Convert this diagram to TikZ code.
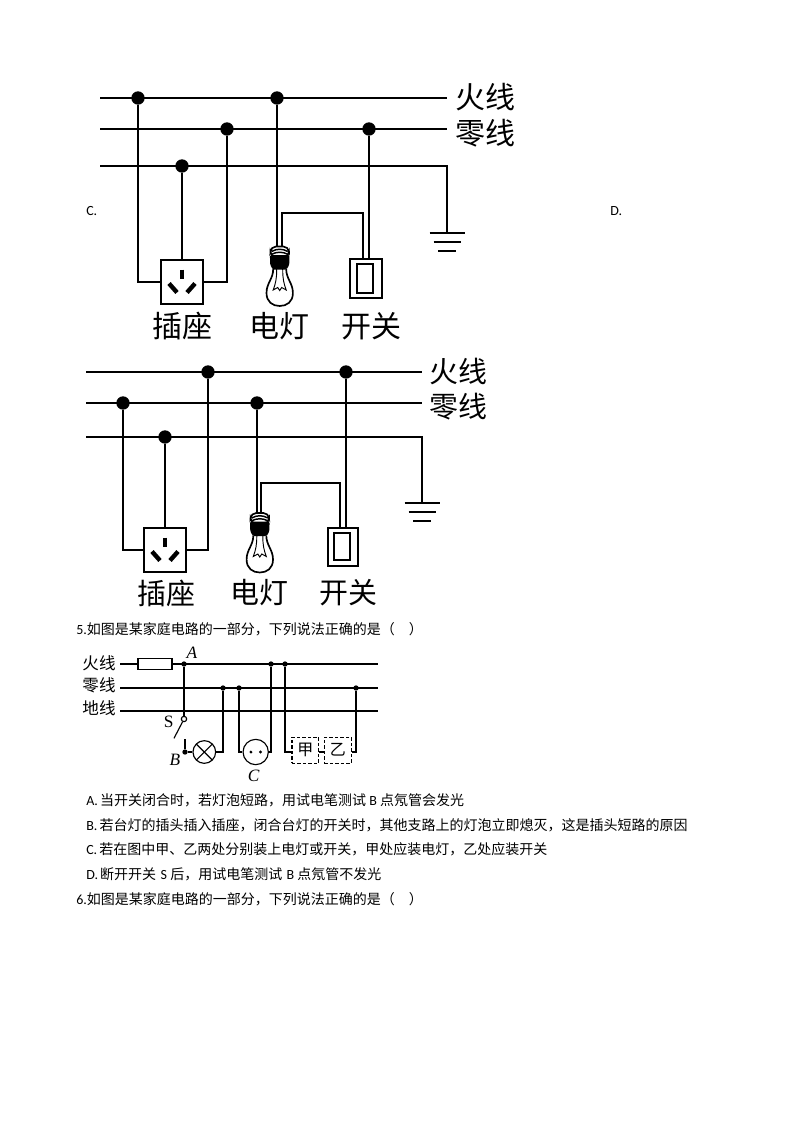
\documentclass[tikz,border=0pt]{standalone}
\usepackage{fontspec}
\setmainfont{Noto Sans CJK SC}
\newfontfamily\latfont{Carlito}
\newfontfamily\letterfont{Liberation Serif}
\usepackage{tikz}
\usetikzlibrary{positioning,calc}
\tikzset{
    pics/bulb/.style={code={
        % glass and filament
        \draw[line width=1.25pt,fill=white] (-6.5,-24) .. controls (-6.5,-14) and (-13.2,-10) .. (-13.2,0)
            .. controls (-13.2,9) and (-7,13) .. (0,13) .. controls (7,13) and (13.2,9) .. (13.2,0)
            .. controls (13.2,-10) and (6.5,-14) .. (6.5,-24);
        \draw[line width=.7pt] (-3,-24) .. controls (-3,-14) and (-4,-10) .. (-6.5,-3) -- (-2,-5.5) -- (0,-2.5) -- (2,-5.5) -- (6.5,-3)
            .. controls (4,-10) and (3,-14) .. (3,-24);
        % cap
        \draw[line width=1.25pt,fill=white,rounded corners=4pt] (-9.5,-36) -- (-9,-46.5) -- (9,-46.5) -- (9.5,-36) -- cycle;
        \draw[line width=1.1pt] (-8,-41.5) .. controls (-3,-44.5) and (3,-44.5) .. (8,-41.5);
        \draw[line width=1.1pt] (-8.5,-38.5) .. controls (-3,-41.5) and (3,-41.5) .. (8.5,-38.5);
        \fill[black,rounded corners=1pt] (-9.8,-38) -- (9.8,-38) -- (9.5,-28) -- (6.8,-23.5) -- (-6.8,-23.5) -- (-9.5,-28) -- cycle;
    }},
    pics/pins/.style={code={
        \draw[line width=3.3pt] (0,-12.5) -- (0,-3.5);
        \draw[line width=3.3pt] (-13,1.5) -- (-5,10.5);
        \draw[line width=3.3pt] (13,1.5) -- (5,10.5);
    }},
    pics/ground/.style={code={
        \draw[line width=1.5pt] (-17.5,0) -- (17.5,0);
        \draw[line width=1.5pt] (-13.5,9) -- (13.5,9);
        \draw[line width=1.5pt] (-9,18) -- (9,18);
    }}
}
\newcommand{\optgap}{\hspace{1.6pt}}
\begin{document}
\begin{tikzpicture}[
        x=.75pt, y=-.75pt,
        wire/.style={line width=1.5pt},
        thinwire/.style={line width=.85pt},
        junction/.style={circle, fill=black, inner sep=0pt, minimum size=10pt},
        tinydot/.style={circle, fill=black, inner sep=0pt, minimum size=4pt},
        outlet/.style={rectangle, draw, line width=1.5pt, inner sep=0pt, minimum width=32pt, minimum height=33.5pt},
        switchbox/.style={rectangle, draw, line width=1.5pt, inner sep=0pt},
        dashbox/.style={rectangle, draw, thinwire, dash pattern=on 2.5pt off 1.6pt, inner sep=0pt, minimum width=20pt, minimum height=19.5pt, font=\fontsize{12pt}{14pt}\selectfont},
        biglabel/.style={inner sep=0pt, font=\fontsize{22.5pt}{26pt}\selectfont},
        midlabel/.style={inner sep=0pt, font=\fontsize{21.7pt}{25pt}\selectfont},
        smalllabel/.style={inner sep=0pt, font=\fontsize{12.4pt}{14pt}\selectfont},
        letter/.style={inner sep=0pt, font=\fontsize{13pt}{15pt}\selectfont\letterfont\itshape},
        qline/.style={anchor=west, inner sep=0pt, font=\fontsize{10.5pt}{13pt}\selectfont}
    ]
    \useasboundingbox (0,0) rectangle (794,1123);
    \fill[white] (0,0) rectangle (794,1123);

    % first circuit
    \coordinate (liveAl) at (100,98);
    \coordinate (liveAr) at (447,98);
    \coordinate (zeroAl) at (100,129);
    \coordinate (zeroAr) at (447,129);
    \coordinate (earthAl) at (100,166);
    \coordinate (earthAr) at (447,166);
    \coordinate (gndA) at (447,233);
    \node[junction] (liveA1) at (138,98) {};
    \node[junction] (liveA2) at (277,98) {};
    \node[junction] (zeroA1) at (227,129) {};
    \node[junction] (zeroA2) at (369,129) {};
    \node[junction] (earthA1) at (182,166) {};
    \node[outlet] (socketA) at (182,282) {};
    \node[switchbox, minimum width=24pt, minimum height=29pt] (switchA) at (365.5,278.5) {};
    \node[switchbox, minimum width=12pt, minimum height=21.5pt] (keyA) at (365,278.5) {};
    \coordinate (bulbAl) at (277,250);
    \coordinate (bulbAr) at (282,250);
    \coordinate (loopAl) at (282,213);
    \coordinate (loopAr) at (363,213);

    \draw[wire] (liveAl) -- (liveAr);
    \draw[wire] (zeroAl) -- (zeroAr);
    \draw[wire] (earthAl) -- (earthAr) -- (gndA);
    \draw[wire] (liveA1) |- (socketA.west);
    \draw[wire] (zeroA1) |- (socketA.east);
    \draw[wire] (earthA1) -- (socketA.north);
    \draw[wire] (liveA2) -- (bulbAl);
    \draw[wire] (bulbAr) -- (loopAl) -- (loopAr) -- (loopAr |- switchA.north);
    \draw[wire] (zeroA2) -- (zeroA2 |- switchA.north);
    \pic at (gndA) {ground};
    \pic at (socketA) {pins};
    \pic at (279.7,293) {bulb};

    \node[biglabel] (fireA) at (485,97) {火线};
    \node[biglabel] (nullA) at (485,133) {零线};
    \node[biglabel] (plugA) at (182,326) {插座};
    \node[biglabel] (lampA) at (279,326) {电灯};
    \node[biglabel] (keytextA) at (371.5,326) {开关};
    \node[qline] (optC) at (86,211.5) {\latfont C.};
    \node[qline] (optD) at (610,211.5) {\latfont D.};

    % second circuit
    \coordinate (liveBl) at (86,372);
    \coordinate (liveBr) at (422,372);
    \coordinate (zeroBl) at (86,403);
    \coordinate (zeroBr) at (422,403);
    \coordinate (earthBl) at (86,437);
    \coordinate (earthBr) at (422,437);
    \coordinate (gndB) at (422,503);
    \node[junction] (liveB1) at (208,372) {};
    \node[junction] (liveB2) at (346,372) {};
    \node[junction] (zeroB1) at (123,403) {};
    \node[junction] (zeroB2) at (257,403) {};
    \node[junction] (earthB1) at (165,437) {};
    \node[outlet] (socketB) at (165,550) {};
    \node[switchbox, minimum width=22.5pt, minimum height=28.5pt] (switchB) at (342.5,546.7) {};
    \node[switchbox, minimum width=12pt, minimum height=20.5pt] (keyB) at (342,546.5) {};
    \coordinate (bulbBl) at (257,519);
    \coordinate (bulbBr) at (261,519);
    \coordinate (loopBl) at (261,483);
    \coordinate (loopBr) at (340,483);

    \draw[wire] (liveBl) -- (liveBr);
    \draw[wire] (zeroBl) -- (zeroBr);
    \draw[wire] (earthBl) -- (earthBr) -- (gndB);
    \draw[wire] (zeroB1) |- (socketB.west);
    \draw[wire] (liveB1) |- (socketB.east);
    \draw[wire] (earthB1) -- (socketB.north);
    \draw[wire] (zeroB2) -- (bulbBl);
    \draw[wire] (bulbBr) -- (loopBl) -- (loopBr) -- (loopBr |- switchB.north);
    \draw[wire] (liveB2) -- (liveB2 |- switchB.north);
    \pic at (gndB) {ground};
    \pic at (socketB) {pins};
    \pic at (259.8,559.5) {bulb};

    \node[midlabel] (fireB) at (458,371) {火线};
    \node[midlabel] (nullB) at (458,406.7) {零线};
    \node[midlabel] (plugB) at (166,593) {插座};
    \node[midlabel] (lampB) at (259,593) {电灯};
    \node[midlabel] (keytextB) at (348,593) {开关};

    % question 5
    \node[qline] (quest5) at (76,629) {{\latfont 5.}如图是某家庭电路的一部分，下列说法正确的是（\hspace{10.5pt}）};

    % third circuit
    \coordinate (liveCl) at (120,664);
    \coordinate (liveCr) at (378,664);
    \coordinate (zeroCl) at (120,688);
    \coordinate (zeroCr) at (378,688);
    \coordinate (earthCl) at (120,711);
    \coordinate (earthCr) at (378,711);
    \node[smalllabel] (fireC) at (99,663) {火线};
    \node[smalllabel] (nullC) at (99,685.7) {零线};
    \node[smalllabel] (groundC) at (99,708) {地线};
    \draw[thinwire] (liveCl) -- (liveCr);
    \draw[thinwire] (zeroCl) -- (zeroCr);
    \draw[thinwire] (earthCl) -- (earthCr);
    \node[draw, thinwire, fill=white, inner sep=0pt, minimum width=25.5pt, minimum height=8.5pt] (fuse) at (155,664) {};
    \node[tinydot] (dotA) at (184,664) {};
    \node[tinydot] (liveC1) at (271,664) {};
    \node[tinydot] (liveC2) at (285,664) {};
    \node[tinydot] (zeroC1) at (223,688) {};
    \node[tinydot] (zeroC2) at (239,688) {};
    \node[tinydot] (zeroC3) at (356,688) {};
    \node[circle, draw, thinwire, fill=white, inner sep=0pt, minimum size=4pt] (contact) at (184,719) {};
    \coordinate (bladeEnd) at (174,738.3);
    \coordinate (stubTop) at (185,739.3);
    \node[tinydot] (dotB) at (185,752) {};
    \node[circle, draw, thinwire, inner sep=0pt, minimum size=17pt, path picture={
        \draw[thinwire] (path picture bounding box.north west) -- (path picture bounding box.south east);
        \draw[thinwire] (path picture bounding box.north east) -- (path picture bounding box.south west);
    }] (lampC) at (204.3,752) {};
    \node[circle, draw, thinwire, inner sep=0pt, minimum size=19pt, path picture={
        \fill (-3.6pt,0) circle (1.2pt);
        \fill (3.6pt,0) circle (1.2pt);
    }] (socketC) at (255.7,752) {};
    \node[dashbox] (jia) at (305.3,750.2) {甲};
    \node[dashbox] (yi) at (337.8,750.2) {乙};

    \draw[thinwire] (dotA) -- (contact);
    \draw[thinwire] (contact) -- (bladeEnd);
    \draw[thinwire] (stubTop) -- (dotB);
    \draw[thinwire] (dotB) -- (lampC);
    \draw[thinwire] (lampC) -| (zeroC1);
    \draw[thinwire] (zeroC2) |- (socketC);
    \draw[thinwire] (socketC) -| (liveC1);
    \draw[thinwire] (liveC2) |- ([yshift=-1.35pt]jia.west);
    \draw[thinwire] ([yshift=-1.35pt]jia.east) -- ([yshift=-1.35pt]yi.west);
    \draw[thinwire] ([yshift=-1.35pt]yi.east) -| (zeroC3);

    \node[letter] (textA) at (192,653) {A};
    \node[inner sep=0pt, font=\fontsize{13pt}{15pt}\selectfont\letterfont] (textS) at (168.7,721.7) {S};
    \node[letter] (textB) at (175,760) {B};
    \node[letter] (textC) at (253.7,776) {C};

    % options
    \node[qline] (optA5) at (86,800) {{\latfont A.}\optgap 当开关闭合时，若灯泡短路，用试电笔测试 {\latfont B} 点氖管会发光};
    \node[qline] (optB5) at (86,825) {{\latfont B.}\optgap 若台灯的插头插入插座，闭合台灯的开关时，其他支路上的灯泡立即熄灭，这是插头短路的原因};
    \node[qline] (optC5) at (86,849) {{\latfont C.}\optgap 若在图中甲、乙两处分别装上电灯或开关，甲处应装电灯，乙处应装开关};
    \node[qline] (optD5) at (86,874) {{\latfont D.}\optgap 断开开关\hspace{1pt} {\latfont S} 后，用试电笔测试\hspace{1pt} {\latfont B} 点氖管不发光};
    \node[qline] (quest6) at (76,899) {{\latfont 6.}如图是某家庭电路的一部分，下列说法正确的是（\hspace{10.5pt}）};
\end{tikzpicture}
\end{document}
